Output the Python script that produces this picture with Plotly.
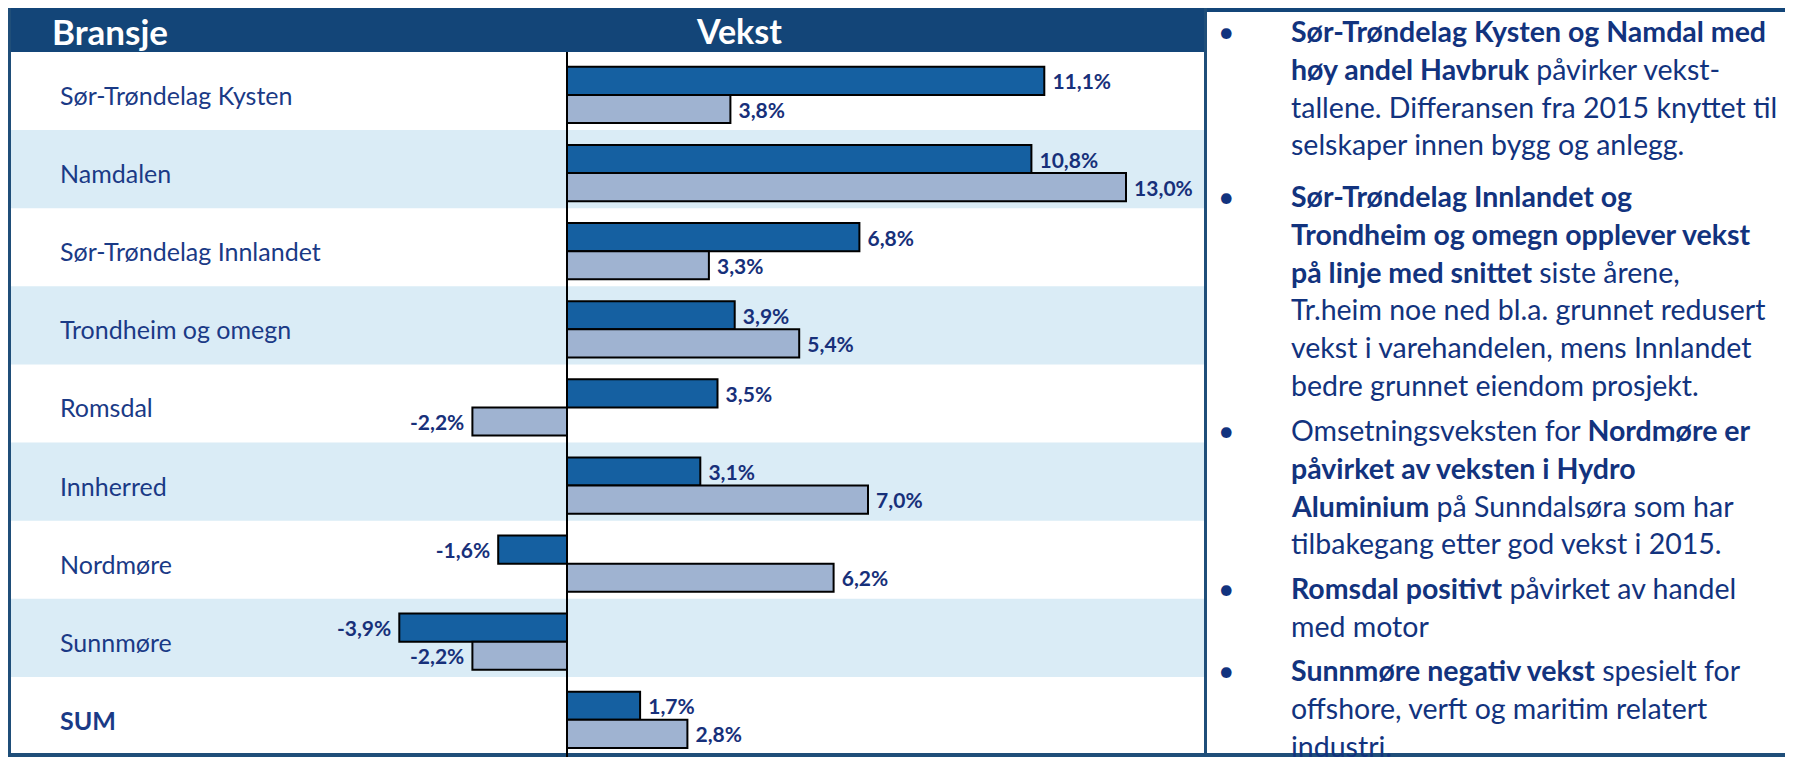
import plotly.graph_objects as go

W, H = 1793, 757
OFF = 8  # page body margin offset (screen px = figure px + OFF)

categories = ["Sør-Trøndelag Kysten", "Namdalen", "Sør-Trøndelag Innlandet",
              "Trondheim og omegn", "Romsdal", "Innherred", "Nordmøre",
              "Sunnmøre", "SUM"]
vekst_a = [11.1, 10.8, 6.8, 3.9, 3.5, 3.1, -1.6, -3.9, 1.7]
vekst_b = [3.8, 13.0, 3.3, 5.4, -2.2, 7.0, 6.2, -2.2, 2.8]

paragraphs = [
    ["<b>Sør-Trøndelag Kysten og Namdal med</b>",
     "<b>høy andel Havbruk</b> påvirker vekst-",
     "tallene. Differansen fra 2015 knyttet til",
     "selskaper innen bygg og anlegg."],
    ["<b>Sør-Trøndelag Innlandet og</b>",
     "<b>Trondheim og omegn opplever vekst</b>",
     "<b>på linje med snittet</b> siste årene,",
     "Tr.heim noe ned bl.a. grunnet redusert",
     "vekst i varehandelen, mens Innlandet",
     "bedre grunnet eiendom prosjekt."],
    ["Omsetningsveksten for <b>Nordmøre er</b>",
     "<b>påvirket av veksten i Hydro</b>",
     "<b>Aluminium</b> på Sunndalsøra som har",
     "tilbakegang etter god vekst i 2015."],
    ["<b>Romsdal positivt</b> påvirket av handel",
     "med motor"],
    ["<b>Sunnmøre negativ vekst</b> spesielt for",
     "offshore, verft og maritim relatert",
     "industri."],
]
para_start_px = [31, 196, 430, 588, 670]
LINE_PX = 37.8

HEADER = "#134578"
DARK_BAR = "#1560A1"
LIGHT_BAR = "#9FB3D1"
BAND = "#DAECF6"
BORDER = "#1F4E79"
NAVY = "#1A3A86"
TEXT_NAVY = "#12337E"
LABEL_NAVY = "#17307A"
FONT = "Lato"


def px_x(p):
    return (p - OFF) / W


def px_y(p):
    return 1 - (p - OFF) / H


def fmt(v):
    s = f"{v:.1f}".replace(".", ",") + "%"
    return (" " + s) if v >= 0 else (s + " ")


fig = go.Figure()
for vals, col in [(vekst_a, DARK_BAR), (vekst_b, LIGHT_BAR)]:
    fig.add_trace(go.Bar(
        y=categories, x=vals, orientation="h",
        marker=dict(color=col, line=dict(color="black", width=2)),
        text=[fmt(v) for v in vals], textposition="outside",
        textfont=dict(family=FONT, size=21, color=LABEL_NAVY, weight="bold"),
        constraintext="none", cliponaxis=False, showlegend=False,
        hoverinfo="skip",
    ))

x_left_px, x_right_px, zero_px, px_per = 9, 1205, 567, 43.0
x_range = [-(zero_px - x_left_px) / px_per, (x_right_px - zero_px) / px_per]

shapes = []
for i, c in enumerate(categories):
    if i % 2 == 1:
        shapes.append(dict(type="rect", xref="paper", yref="y",
                           x0=px_x(10), x1=px_x(1205), y0=i - 0.55, y1=i + 0.45,
                           fillcolor=BAND, line=dict(width=0), layer="below"))
# header band
shapes.append(dict(type="rect", xref="paper", yref="paper",
                   x0=px_x(7), x1=px_x(1206), y0=px_y(52), y1=px_y(8),
                   fillcolor=HEADER, line=dict(width=0)))
# top border over right panel
shapes.append(dict(type="rect", xref="paper", yref="paper",
                   x0=px_x(1206), x1=1, y0=px_y(12), y1=px_y(8),
                   fillcolor=HEADER, line=dict(width=0)))
# left border
shapes.append(dict(type="rect", xref="paper", yref="paper",
                   x0=px_x(8), x1=px_x(11), y0=0, y1=px_y(8),
                   fillcolor=BORDER, line=dict(width=0)))
# right panel left border
shapes.append(dict(type="rect", xref="paper", yref="paper",
                   x0=px_x(1204), x1=px_x(1207), y0=0, y1=px_y(8),
                   fillcolor=BORDER, line=dict(width=0)))
# bottom border
shapes.append(dict(type="rect", xref="paper", yref="paper",
                   x0=px_x(8), x1=1, y0=px_y(757), y1=px_y(753),
                   fillcolor=BORDER, line=dict(width=0)))
# zero line
shapes.append(dict(type="line", xref="x", yref="paper", x0=0, x1=0,
                   y0=px_y(757), y1=px_y(52), line=dict(color="black", width=2)))

annotations = []
annotations.append(dict(text="<b>Bransje</b>", xref="paper", yref="paper",
                        x=px_x(50), y=px_y(31), xanchor="left", yanchor="middle",
                        showarrow=False, font=dict(family=FONT, size=35, color="white")))
annotations.append(dict(text="<b>Vekst</b>", xref="paper", yref="paper",
                        x=px_x(739), y=px_y(31), xanchor="center", yanchor="middle",
                        showarrow=False, font=dict(family=FONT, size=34, color="white")))
for c in categories:
    t = f"<b>{c}</b>" if c == "SUM" else c
    annotations.append(dict(text=t, xref="paper", yref="y", x=px_x(58), y=c,
                            xanchor="left", yanchor="middle", showarrow=False,
                            font=dict(family=FONT, size=25, color=NAVY)))
for para, start in zip(paragraphs, para_start_px):
    annotations.append(dict(text="•", xref="paper", yref="paper",
                            x=px_x(1216), y=px_y(start), xanchor="left",
                            yanchor="middle", showarrow=False,
                            font=dict(family=FONT, size=28.5, color=TEXT_NAVY)))
    for k, line in enumerate(para):
        annotations.append(dict(text=line, xref="paper", yref="paper",
                                x=px_x(1289), y=px_y(start + k * LINE_PX),
                                xanchor="left", yanchor="middle", showarrow=False,
                                font=dict(family=FONT, size=28.5, color=TEXT_NAVY)))

fig.update_layout(
    width=W, height=H, margin=dict(l=0, r=0, t=0, b=0),
    paper_bgcolor="white", plot_bgcolor="rgba(0,0,0,0)",
    barmode="group", bargap=0.28, bargroupgap=0,
    xaxis=dict(domain=[px_x(x_left_px), px_x(x_right_px)], range=x_range,
               showgrid=False, zeroline=False, showticklabels=False, fixedrange=True),
    yaxis=dict(domain=[px_y(755), px_y(52)], type="category",
               range=[8.45, -0.55], showgrid=False, zeroline=False,
               showticklabels=False, fixedrange=True),
    shapes=shapes, annotations=annotations,
    font=dict(family=FONT),
)

fig.write_html("out.html")
